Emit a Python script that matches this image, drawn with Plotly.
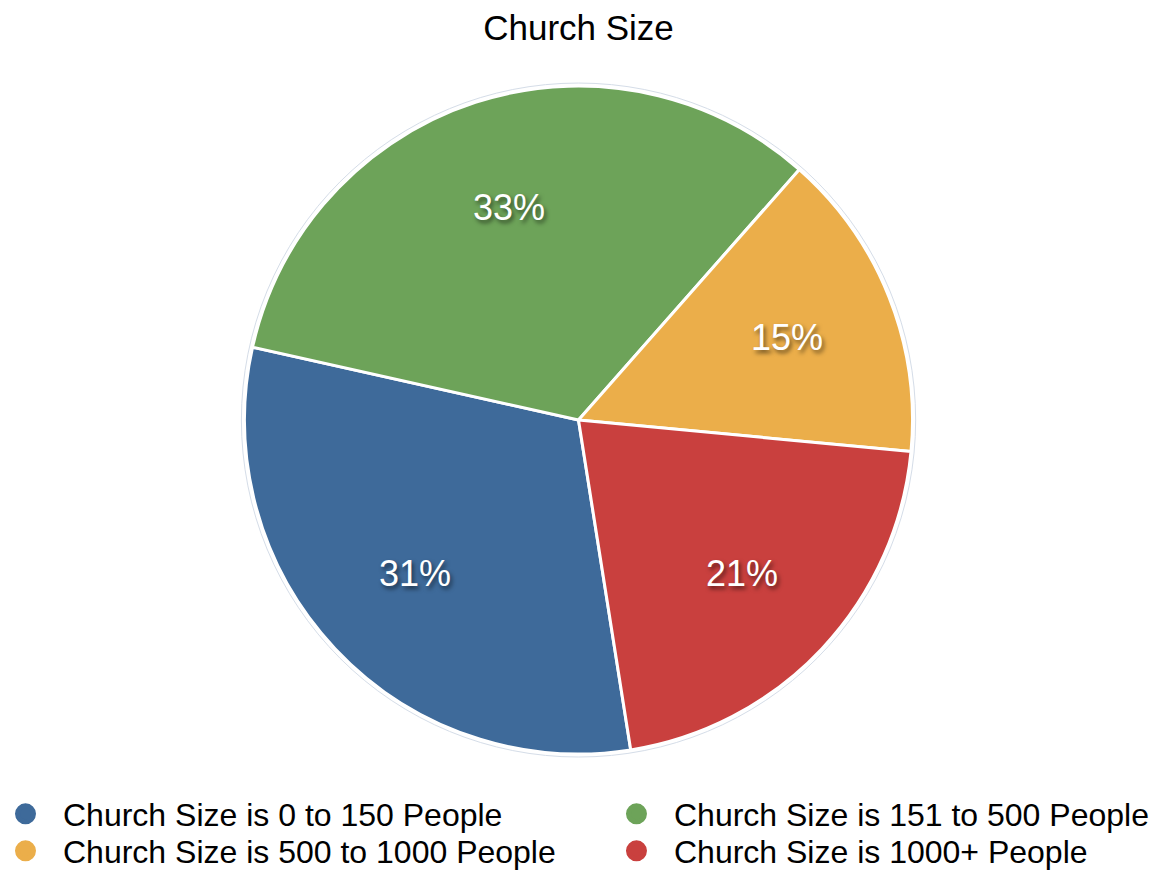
import math
import plotly.graph_objects as go

categories = [
    "Church Size is 0 to 150 People",
    "Church Size is 151 to 500 People",
    "Church Size is 500 to 1000 People",
    "Church Size is 1000+ People",
]
values = [31, 33, 15, 21]
colors = ["#3e6a9a", "#6da359", "#ebae4a", "#c9403e"]

W, H = 1157, 870
ROT = 171  # start angle (deg, clockwise from 12 o'clock)
DOM_Y = [0.1333, 0.9011]
FONT = "Liberation Sans, Arial, Helvetica, sans-serif"

fig = go.Figure()

# faint outer ring behind the pie
fig.add_trace(go.Pie(
    values=[1], labels=["ring"], sort=False, textinfo="none", hoverinfo="skip",
    marker=dict(colors=["white"], line=dict(color="#d5dde8", width=1)),
    showlegend=False, domain=dict(x=[0, 1], y=[DOM_Y[0] - 3 / H, DOM_Y[1] + 3 / H]),
))

fig.add_trace(go.Pie(
    labels=categories,
    values=values,
    sort=False,
    direction="clockwise",
    rotation=ROT,
    marker=dict(colors=colors, line=dict(color="white", width=3)),
    textinfo="none",
    showlegend=False,
    domain=dict(x=[0, 1], y=DOM_Y),
    hoverinfo="label+percent",
))

# percentage labels placed at 0.67 of the radius along each slice's mid-angle
total = sum(values)
R_px = (DOM_Y[1] - DOM_Y[0]) * H / 2
cy = (DOM_Y[0] + DOM_Y[1]) / 2
start = ROT
for v in values:
    span = 360 * v / total
    mid = math.radians(start + span / 2)
    r = 0.67 * R_px
    fig.add_annotation(
        x=0.5 + r * math.sin(mid) / W, y=cy + r * math.cos(mid) / H,
        xref="paper", yref="paper", showarrow=False,
        text=f"{round(100 * v / total)}%",
        font=dict(family=FONT, size=36, color="white",
                  shadow="2px 3px 4px rgba(0,0,0,0.55)"),
        xanchor="center", yanchor="middle",
    )
    start += span

# legend: 2 columns x 2 rows, one legend box per entry
legend_pos = [(-12 / W, 814), (0.5177, 814), (-12 / W, 851), (0.5177, 851)]
legend_keys = ["legend", "legend2", "legend3", "legend4"]
for name, col, key in zip(categories, colors, legend_keys):
    fig.add_trace(go.Scatter(
        x=[None], y=[None], mode="markers", name=name, legend=key,
        marker=dict(color=col, size=16, symbol="circle", line=dict(color=col, width=5)),
        showlegend=True,
    ))

layout_legends = {}
for key, (lx, ly) in zip(legend_keys, legend_pos):
    layout_legends[key] = dict(
        orientation="v", x=lx, xanchor="left", y=(H - ly) / H, yanchor="middle",
        font=dict(family=FONT, size=32, color="#000"),
        itemsizing="trace", itemwidth=65, bgcolor="rgba(0,0,0,0)",
    )

fig.update_layout(
    width=W, height=H,
    margin=dict(l=0, r=0, t=0, b=0, autoexpand=False),
    paper_bgcolor="white", plot_bgcolor="white",
    title=dict(text="Church Size", x=0.5, xanchor="center", y=1 - 28 / H, yanchor="middle",
               yref="container",
               font=dict(family=FONT, size=35, color="#000")),
    xaxis=dict(visible=False), yaxis=dict(visible=False),
    **layout_legends,
)

fig.write_html("out.html", config={"displayModeBar": False},
               post_script="document.body.style.margin='0';")
